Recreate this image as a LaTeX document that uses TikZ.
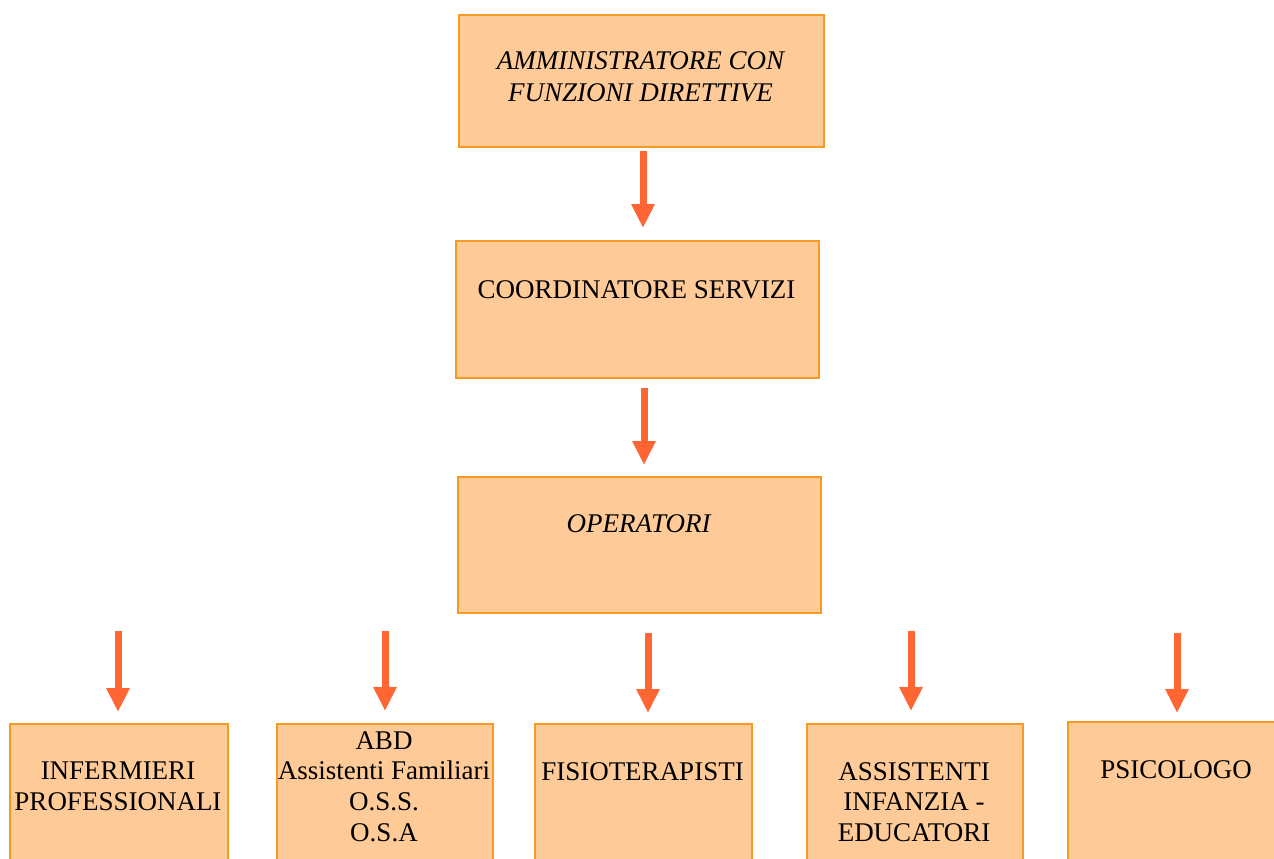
\documentclass[tikz,border=0pt]{standalone}
\usepackage{fontspec}
\setmainfont{Liberation Serif}
\usetikzlibrary{arrows.meta}
\definecolor{boxfill}{HTML}{FDCA98}
\definecolor{boxline}{HTML}{F79A24}
\definecolor{arrowc}{HTML}{FF6633}
\tikzset{
  orgbox/.style={draw=boxline, fill=boxfill, line width=2pt, inner sep=0pt, anchor=north west},
  lbl/.style={anchor=north, inner sep=0pt, align=center, font=\fontsize{27}{31}\selectfont},
  arr/.style={draw=arrowc, line width=7pt, -{Triangle[width=22pt,length=24pt]}}
}
\begin{document}
\begin{tikzpicture}[x=1pt,y=-1pt]
\useasboundingbox (0,0) rectangle (1274,859);
\clip (0,0) rectangle (1274,859);
% boxes
\node[orgbox, minimum width=365pt, minimum height=132pt] (adm) at (458,14) {};
\node[orgbox, minimum width=363pt, minimum height=137pt] (coord) at (455,240) {};
\node[orgbox, minimum width=363pt, minimum height=136pt] (oper) at (457,476) {};
\node[orgbox, minimum width=218pt, minimum height=160pt] (inf) at (9,723) {};
\node[orgbox, minimum width=216pt, minimum height=160pt] (abd) at (276,723) {};
\node[orgbox, minimum width=217pt, minimum height=160pt] (fis) at (534,723) {};
\node[orgbox, minimum width=216pt, minimum height=160pt] (ass) at (806,723) {};
\node[orgbox, minimum width=230pt, minimum height=160pt] (psi) at (1067,721) {};
% labels
\node[lbl, font=\fontsize{27}{32}\selectfont\itshape] (tadm) at (640.5,51) {AMMINISTRATORE CON\\FUNZIONI DIRETTIVE};
\node[lbl] (tcoord) at (636.5,280) {COORDINATORE SERVIZI};
\node[lbl, font=\fontsize{27}{31}\selectfont\itshape] (toper) at (638.5,514) {OPERATORI};
\node[lbl] (tinf) at (118,762) {INFERMIERI\\PROFESSIONALI};
\node[lbl, font=\fontsize{27}{30.7}\selectfont] (tabd) at (384,731) {ABD\\Assistenti Familiari\\O.S.S.\\O.S.A};
\node[lbl] (tfis) at (642.5,762) {FISIOTERAPISTI};
\node[lbl, font=\fontsize{27}{30.7}\selectfont] (tass) at (914,762) {ASSISTENTI\\INFANZIA -\\EDUCATORI};
\node[lbl] (tpsi) at (1176,760) {PSICOLOGO};
% arrow start points
\coordinate (s1) at (643,151);
\coordinate (s2) at (644,388);
\coordinate (b1) at (118,631);
\coordinate (b2) at (385,631);
\coordinate (b3) at (648,633);
\coordinate (b4) at (911,631);
\coordinate (b5) at (1177,633);
\draw[arr, shorten >=12pt] (s1) -- (s1 |- coord.north);
\draw[arr, shorten >=11pt] (s2) -- (s2 |- oper.north);
\draw[arr, shorten >=11pt] (b1) -- (b1 |- inf.north);
\draw[arr, shorten >=12pt] (b2) -- (b2 |- abd.north);
\draw[arr, shorten >=10pt] (b3) -- (b3 |- fis.north);
\draw[arr, shorten >=12pt] (b4) -- (b4 |- ass.north);
\draw[arr, shorten >=8pt] (b5) -- (b5 |- psi.north);
\end{tikzpicture}
\end{document}
